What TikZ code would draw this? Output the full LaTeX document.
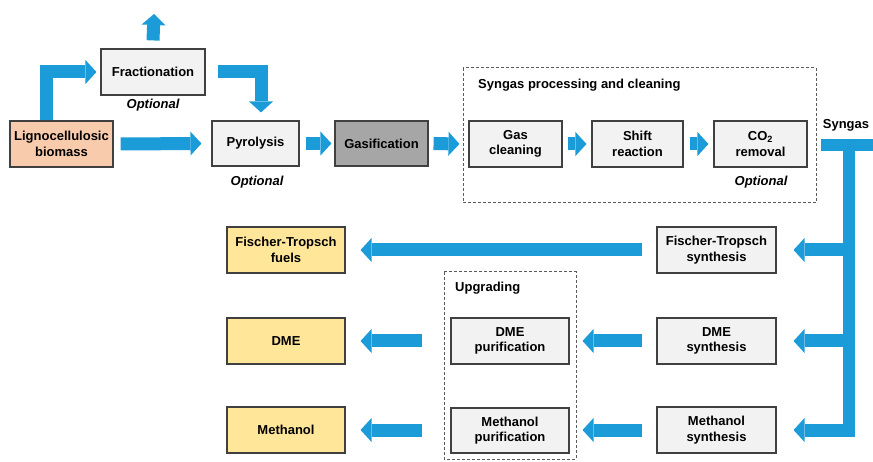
\documentclass[tikz,border=0pt]{standalone}
\usepackage{fontspec}
\setmainfont{Liberation Sans}
\usetikzlibrary{arrows.meta}
\definecolor{flowblue}{RGB}{27,155,215}
\definecolor{boxline}{RGB}{64,64,64}
\definecolor{procgray}{RGB}{242,242,242}
\definecolor{gasgray}{RGB}{166,166,166}
\definecolor{peach}{RGB}{248,203,173}
\definecolor{prodyellow}{RGB}{255,230,153}
\definecolor{dashgray}{RGB}{90,90,90}
\begin{document}
\begin{tikzpicture}[x=1pt,y=-1pt,
  box/.style={draw=boxline, line width=1.1pt, fill=procgray, align=center,
    inner sep=0pt, minimum width=119pt, minimum height=46pt,
    font=\fontsize{13}{15.5}\selectfont\bfseries},
  prod/.style={box, fill=prodyellow, minimum width=118pt},
  barrow/.style={draw=flowblue, line width=13pt, line join=miter,
    -{Triangle[width=24pt,length=11pt,line width=0pt]}},
  bbar/.style={draw=flowblue, line width=12pt, line join=miter},
  lbl/.style={font=\fontsize{13}{15.5}\selectfont\bfseries, inner sep=0pt},
  opt/.style={font=\fontsize{13}{15.5}\selectfont\bfseries\itshape, inner sep=0pt},
  group/.style={draw=dashgray, line width=1pt, dash pattern=on 3pt off 2pt}
]
\useasboundingbox (0,0) rectangle (873,462);

% dashed groups
\draw[group] (463,68) rectangle (816,203);
\draw[group] (444,272) rectangle (576,459);
\node[lbl, anchor=west] (sglbl) at (478,85) {Syngas processing and cleaning};
\node[lbl, anchor=west] (uplbl) at (455,288) {Upgrading};

% top row
\node[box, fill=peach, minimum width=103pt] (bio) at (61.5,144) {Lignocellulosic\\biomass};
\node[box, minimum width=104pt] (frac) at (153,72) {Fractionation};
\node[box, minimum width=87pt, minimum height=45pt] (pyr) at (255.5,143.5) {Pyrolysis};
\node[box, fill=gasgray, minimum width=93pt, minimum height=45pt] (gas) at (381.5,143.5) {Gasification};
\node[box, minimum width=93pt] (gcl) at (515.5,144) {Gas\\cleaning};
\node[box, minimum width=91pt] (shr) at (637.5,144) {Shift\\reaction};
\node[box, minimum width=93pt] (co2) at (760.5,144) {CO\textsubscript{2}\\removal};

\node[opt] (opt1) at (153,105) {Optional};
\node[opt] (opt2) at (257,182) {Optional};
\node[opt] (opt3) at (761,182) {Optional};
\node[lbl] (sg) at (846,125) {Syngas};

% synthesis column
\node[box] (fts) at (716.5,250) {Fischer-Tropsch\\synthesis};
\node[box] (dmes) at (716.5,341) {DME\\synthesis};
\node[box] (mes) at (716.5,430) {Methanol\\synthesis};

% upgrading
\node[box, minimum width=118pt] (dmep) at (510,341) {DME\\purification};
\node[box, minimum width=118pt, minimum height=45pt] (mep) at (510,430.5) {Methanol\\purification};

% products
\node[prod] (ftf) at (286,250) {Fischer-Tropsch\\fuels};
\node[prod] (dme) at (286,341) {DME};
\node[prod] (meoh) at (286,430) {Methanol};

% free ends
\coordinate (fracout) at (154,14);
\coordinate (sgstart) at (821,145);
\coordinate (sgright) at (873,145);
\coordinate (sgtop) at (849,139);
\coordinate (sgbot) at (849,437);

% arrows top
\draw[barrow] ([yshift=8pt]frac.north) -- (fracout);
\draw[barrow] ([xshift=-15.5pt]bio.north) |- ([xshift=-4pt]frac.west);
\draw[barrow] ([xshift=12pt]frac.east) -| ([xshift=5.5pt,yshift=8pt]pyr.north);
\draw[barrow] ([xshift=7pt]bio.east) -- ([xshift=-10pt]pyr.west);
\draw[barrow] ([xshift=6pt]pyr.east) -- ([xshift=-3pt]gas.west);
\draw[barrow] ([xshift=5pt]gas.east) -- ([xshift=-9pt]gcl.west);
\draw[barrow] ([xshift=5pt]gcl.east) -- ([xshift=-5pt]shr.west);
\draw[barrow] ([xshift=6pt]shr.east) -- ([xshift=-5pt]co2.west);

% syngas distribution
\draw[bbar] (sgstart) -- (sgright);
\draw[bbar] (sgtop) -- (sgbot);
\draw[barrow] (sgtop |- fts.east) -- ([xshift=17pt]fts.east);
\draw[barrow] (sgtop |- dmes.east) -- ([xshift=17pt]dmes.east);
\draw[barrow] (sgtop |- mes.east) -- ([xshift=17pt]mes.east);

% to products
\draw[barrow] ([xshift=-14pt]fts.west) -- ([xshift=15pt]ftf.east);
\draw[barrow] ([xshift=-14pt]dmes.west) -- ([xshift=13pt]dmep.east);
\draw[barrow] ([xshift=-14pt]mes.west) -- ([xshift=13pt]mep.east |- mes.west);
\draw[barrow] ([xshift=-28pt]dmep.west) -- ([xshift=15pt]dme.east);
\draw[barrow] ([xshift=-28pt]mep.west |- meoh.east) -- ([xshift=15pt]meoh.east);
\end{tikzpicture}
\end{document}
